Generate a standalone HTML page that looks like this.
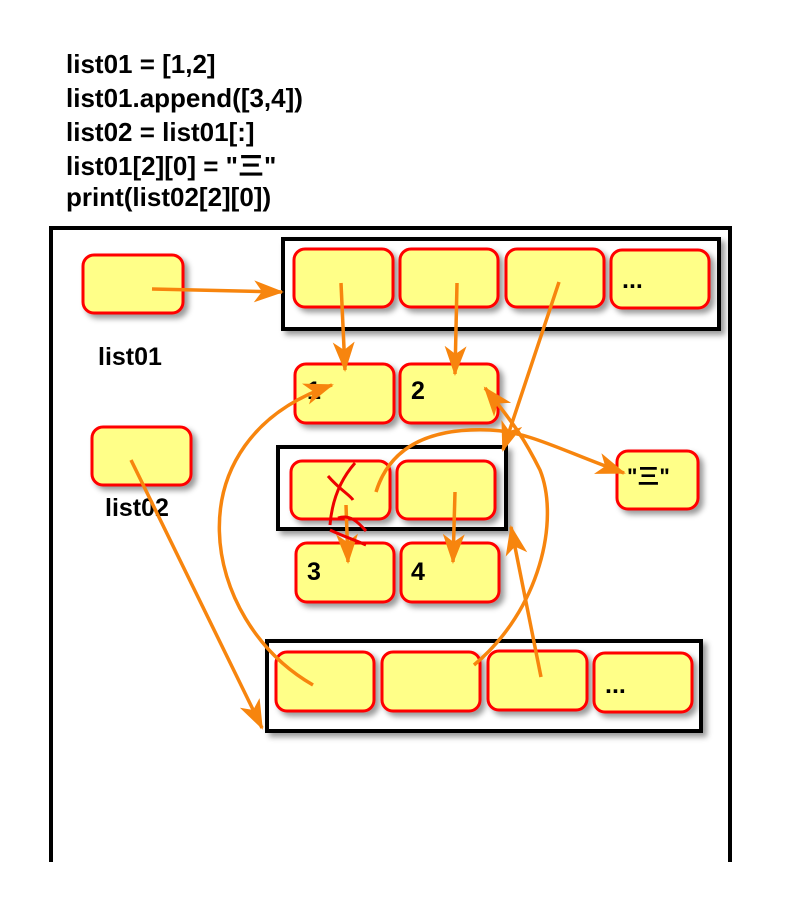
<!DOCTYPE html>
<html><head><meta charset="utf-8"><style>
body{margin:0;background:#fff;}
svg{display:block}
</style></head><body>
<svg width="800" height="924" xmlns="http://www.w3.org/2000/svg">
<defs>
<filter id="sh" x="-10%" y="-10%" width="130%" height="130%"><feDropShadow dx="4" dy="4" stdDeviation="3" flood-color="#000" flood-opacity="0.4"/></filter>
<marker id="ah" markerWidth="30" markerHeight="22" refX="28" refY="11" orient="auto" markerUnits="userSpaceOnUse" viewBox="0 0 30 22"><path d="M0,0 L30,11 L0,22 L8,11Z" fill="#f7850e"/></marker>
</defs>
<style>
.t{font-family:"Liberation Sans","Noto Sans CJK SC",sans-serif;font-weight:bold;fill:#000}
.c{fill:#ffff88;stroke:#f00;stroke-width:3}
.k{fill:#fff;stroke:#000;stroke-width:4}
.a{fill:none;stroke:#f7850e;stroke-width:3.5;marker-end:url(#ah)}
</style>
<g class="t" font-size="26">
<text x="66" y="73">list01 = [1,2]</text>
<text x="66" y="107">list01.append([3,4])</text>
<text x="66" y="141">list02 = list01[:]</text>
<text x="66" y="175">list01[2][0] = "三"</text>
<text x="66" y="206">print(list02[2][0])</text>
</g>
<path d="M51,862 V228 H730 V862" fill="#fff" stroke="#000" stroke-width="4"/>
<rect x="283" y="239" width="436" height="90" class="k" filter="url(#sh)"/>
<rect x="278" y="447" width="228" height="82" class="k" filter="url(#sh)"/>
<rect x="267" y="641" width="434" height="90" class="k" filter="url(#sh)"/>
<g filter="url(#sh)">
<rect x="83" y="255" width="100" height="58" rx="11" class="c"/>
<rect x="92" y="427" width="99" height="58" rx="11" class="c"/>
<rect x="294" y="249" width="99" height="58" rx="11" class="c"/>
<rect x="400" y="249" width="98" height="58" rx="11" class="c"/>
<rect x="506" y="249" width="98" height="58" rx="11" class="c"/>
<rect x="611" y="250" width="98" height="58" rx="11" class="c"/>
<rect x="295" y="364" width="99" height="59" rx="11" class="c"/>
<rect x="400" y="364" width="98" height="59" rx="11" class="c"/>
<rect x="291" y="461" width="99" height="58" rx="11" class="c"/>
<rect x="397" y="461" width="98" height="58" rx="11" class="c"/>
<rect x="296" y="543" width="98" height="59" rx="11" class="c"/>
<rect x="401" y="543" width="98" height="59" rx="11" class="c"/>
<rect x="617" y="451" width="81" height="58" rx="11" class="c"/>
<rect x="276" y="652" width="98" height="59" rx="11" class="c"/>
<rect x="382" y="652" width="98" height="59" rx="11" class="c"/>
<rect x="488" y="651" width="99" height="59" rx="11" class="c"/>
<rect x="594" y="653" width="98" height="59" rx="11" class="c"/>
</g>
<g class="t" font-size="25">
<text x="98" y="365">list01</text>
<text x="105" y="516">list02</text>
<text x="307" y="399">1</text>
<text x="411" y="399">2</text>
<text x="307" y="580">3</text>
<text x="411" y="580">4</text>
<text x="622" y="288">...</text>
<text x="605" y="693">...</text>
<text x="627" y="484" font-size="22">"三"</text>
</g>
<g class="a">
<path d="M152,289 L282,292"/>
<path d="M341,283 L345,370"/>
<path d="M457,283 L455,374"/>
<path d="M559,282 L503,450"/>
<path d="M376,492 C392,440 440,428 490,430 C530,432 560,450 624,473"/>
<path d="M455,492 L453,562"/>
<path d="M346,505 L348,562"/>
<path d="M131,460 L262,728"/>
<path d="M313,685 C200,620 170,440 332,385"/>
<path d="M474,665 C540,610 560,520 540,470 C525,440 515,425 485,388"/>
<path d="M541,677 L511,527"/>
</g>
<g fill="none" stroke="#e00" stroke-width="3">
<path d="M328,476 C340,490 350,495 353,500"/>
<path d="M355,463 C340,480 332,500 330,525"/>
<path d="M338,518 C350,514 358,522 366,531"/>
<path d="M330,530 C345,537 355,540 366,545"/>
</g>
</svg>
</body></html>
